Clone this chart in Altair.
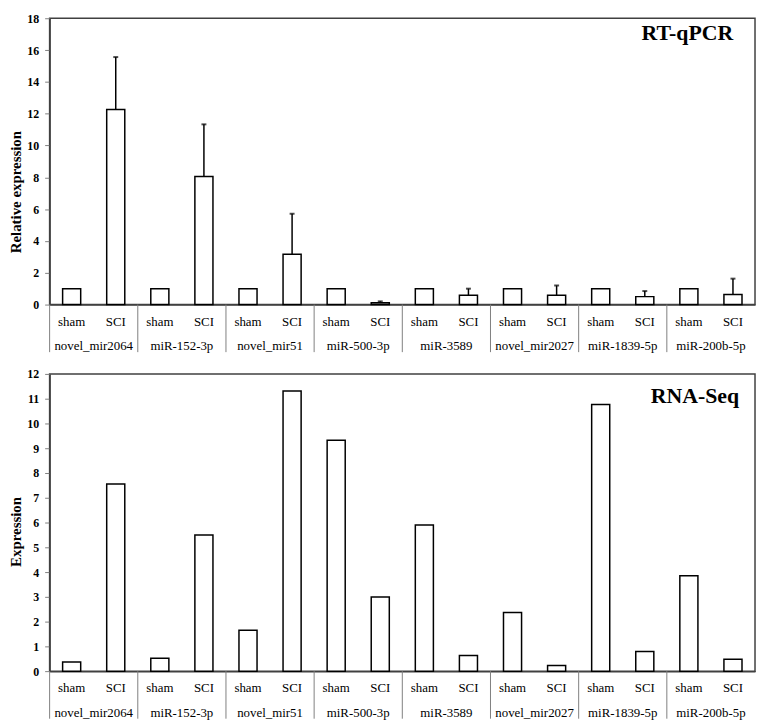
import altair as alt
import pandas as pd

genes = ["novel_mir2064", "miR-152-3p", "novel_mir51", "miR-500-3p",
         "miR-3589", "novel_mir2027", "miR-1839-5p", "miR-200b-5p"]
conditions = ["sham", "SCI"]

# RT-qPCR (relative expression)
qpcr_sham = [1.0, 1.0, 1.0, 1.0, 1.0, 1.0, 1.0, 1.0]
qpcr_sci = [12.26, 8.05, 3.16, 0.12, 0.58, 0.58, 0.50, 0.64]
qpcr_sci_upper = [15.56, 11.33, 5.71, 0.20, 1.00, 1.20, 0.85, 1.63]

# RNA-Seq (expression)
seq_sham = [0.37, 0.52, 1.65, 9.32, 5.90, 2.37, 10.77, 3.85]
seq_sci = [7.56, 5.50, 11.31, 2.99, 0.63, 0.23, 0.79, 0.48]

FONT = "Liberation Serif"
W = 712
keys = [f"{g}|{c}" for g in genes for c in conditions]


def panel(sham, sci, upper, ymax, step, height, ytitle, title_y, tag, tag_x, tag_y):
    rows = []
    for g, a, b in zip(genes, sham, sci):
        rows.append({"key": f"{g}|sham", "gene": g, "value": a})
        rows.append({"key": f"{g}|SCI", "gene": g, "value": b})
    df = pd.DataFrame(rows)

    xscale = alt.Scale(domain=keys, paddingInner=0.59, paddingOuter=0.295)
    xaxis = alt.Axis(
        title=None, labelExpr="split(datum.value, '|')[1]", ticks=False, tickSize=0,
        labelPadding=17, labelBaseline="middle", labelAngle=0, labelFont=FONT,
        labelFontSize=13, labelColor="black", domainColor="#404040", domainWidth=1.5)
    xkey = alt.X("key:N", scale=xscale, axis=xaxis)
    yscale = alt.Scale(domain=[0, ymax], nice=False)
    yaxis = alt.Axis(
        values=list(range(0, ymax + 1, step)), title=ytitle, grid=False,
        labelFont=FONT, labelFontSize=12, labelFontWeight="bold", labelColor="black",
        labelPadding=6, tickSize=5, tickColor="#808080", domainColor="#404040",
        domainWidth=1.5, titleFont=FONT, titleFontSize=15, titleFontWeight="bold",
        titleColor="black", titleAngle=270, titleAlign="center", titleBaseline="bottom",
        titleX=-26, titleY=title_y)
    y = alt.Y("value:Q", scale=yscale, axis=yaxis)

    bars = alt.Chart(df).mark_bar(fill="white", stroke="black", strokeWidth=1.5).encode(x=xkey, y=y)
    layers = [bars]
    if upper is not None:
        edf = pd.DataFrame({"key": [f"{g}|SCI" for g in genes], "value": sci, "upper": upper})
        rule = alt.Chart(edf).mark_rule(color="black", strokeWidth=1.5).encode(
            x=xkey, y=y, y2="upper:Q")
        cap = alt.Chart(edf).mark_tick(color="black", thickness=2, size=5).encode(
            x=xkey, y=alt.Y("upper:Q", scale=yscale, axis=yaxis))
        layers += [rule, cap]
    tagc = alt.Chart(pd.DataFrame({"t": [tag]})).mark_text(
        align="right", baseline="alphabetic", font=FONT, fontSize=22, fontWeight="bold",
        color="black").encode(x=alt.value(tag_x), y=alt.value(tag_y), text="t:N")
    layers.append(tagc)
    main = alt.layer(*layers)

    gdf = pd.DataFrame({"gene": genes})
    gscale = alt.Scale(domain=genes, paddingInner=0, paddingOuter=0)
    sep = alt.Chart(gdf).mark_rule(color="#808080", strokeWidth=1).encode(
        x=alt.X("gene:N", bandPosition=0, scale=gscale, axis=None),
        y=alt.value(height), y2=alt.value(height + 48))
    glab = alt.Chart(gdf).mark_text(font=FONT, fontSize=13, baseline="middle", color="black").encode(
        x=alt.X("gene:N", scale=gscale, axis=None), y=alt.value(height + 42), text="gene:N")
    sub = alt.layer(sep, glab)
    return alt.layer(main, sub).resolve_scale(x="independent").properties(width=W, height=height)


top = panel(qpcr_sham, qpcr_sci, qpcr_sci_upper, 18, 2, 289, "Relative expression", 175,
            "RT-qPCR", W - 22, 22)
bottom = panel(seq_sham, seq_sci, None, 12, 1, 300, "Expression", 159,
               "RNA-Seq", W - 16, 29)

chart = alt.vconcat(top, bottom, spacing=13).properties(
    padding={"left": 0, "top": 0, "right": 0, "bottom": 0}
).configure_view(stroke="#404040", strokeWidth=1.5)

chart.save("out.html", embed_options={"renderer": "svg", "actions": False})
